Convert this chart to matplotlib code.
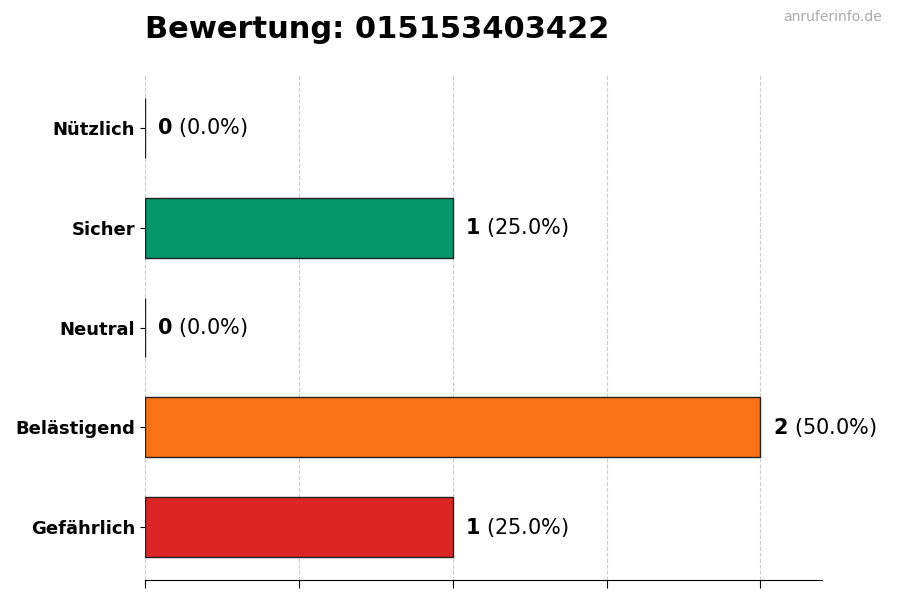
import matplotlib
matplotlib.use("Agg")
import matplotlib.pyplot as plt

categories = ["Nützlich", "Sicher", "Neutral", "Belästigend", "Gefährlich"]
counts = [0, 1, 0, 2, 1]
percents = [0.0, 25.0, 0.0, 50.0, 25.0]
colors = ["#6b7280", "#059669", "#9ca3af", "#f97316", "#dc2626"]
title = "Bewertung: 015153403422"

fig = plt.figure(figsize=(9, 6), dpi=100)
ax = fig.add_axes([145/900, 20/600, 677/900, 505/600])
y = list(range(len(categories)))[::-1]
ax.barh(y, counts, height=0.6, color=colors, edgecolor="#222222", linewidth=1, zorder=3)
for yi, c, p in zip(y, counts, percents):
    ax.text(c + 0.04, yi, f"$\\bf{{{c}}}$ ({p:.1f}%)", va="center", ha="left", fontsize=15)
ax.set_yticks(y)
ax.set_yticklabels(categories, fontsize=13, fontweight="bold")
ax.set_xlim(0, 2.2)
ax.set_ylim(-0.53, 4.53)
ax.set_xticks([0, 0.5, 1, 1.5, 2])
ax.set_xticklabels([])
ax.tick_params(axis="x", length=6)
ax.grid(axis="x", linestyle="--", color="#cccccc", linewidth=0.8, zorder=0)
for s in ["top", "right", "left"]:
    ax.spines[s].set_visible(False)
fig.text(145/900, 1-30/600, title, fontsize=22, fontweight="bold", va="center", ha="left")
fig.text(882/900, 1-17/600, "anruferinfo.de", fontsize=10, color="#aaaaaa", ha="right", va="center")
fig.savefig("out.png", dpi=100)
